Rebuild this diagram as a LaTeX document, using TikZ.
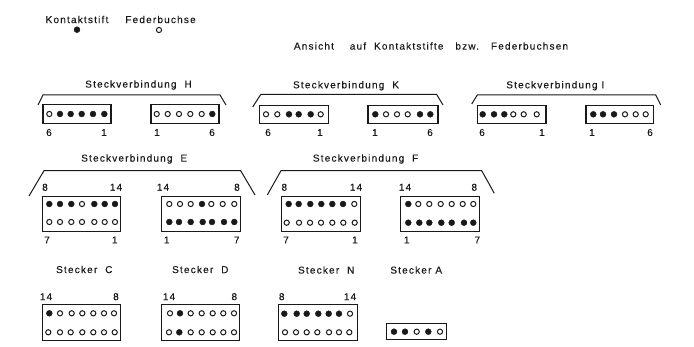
\documentclass[tikz,border=0pt]{standalone}
\usepackage{fontspec}
\setmainfont[LetterSpace=12,FakeBold=0.25]{Liberation Sans}
\usepackage{tikz}
\definecolor{white}{rgb}{1.0, 1.0, 1.0}
\definecolor{tinte}{RGB}{25,25,25}
\pgfdeclarelayer{edgelayer}
\pgfdeclarelayer{nodelayer}
\pgfsetlayers{edgelayer,nodelayer,main}
\tikzstyle{stift}=[circle,fill=tinte,draw=tinte,line width=0.3pt,inner sep=0pt,minimum size=6pt]
\tikzstyle{buchse}=[circle,fill=white,draw=tinte,line width=1pt,inner sep=0pt,minimum size=5.2pt]
\tikzstyle{schrift}=[inner sep=0pt,text=tinte,font=\fontsize{10}{11}\selectfont]
\tikzstyle{kasten}=[draw=tinte,line width=1.1pt,fill=white,inner sep=0pt]
\tikzstyle{klein}=[kasten,minimum height=18.5pt]
\tikzstyle{gross}=[kasten,minimum height=35.5pt]
\tikzstyle{klammer}=[draw=tinte,line width=1pt]

\begin{document}
\begin{tikzpicture}[x=1pt,y=-1pt]
        \useasboundingbox (0,0) rectangle (694,347);
        \begin{pgfonlayer}{edgelayer}
            \node [style = klein, minimum width=68pt] (h1) at (77, 114) {};
            \node [style = klein, minimum width=68pt] (h2) at (185, 114) {};
            \node [style = klein, minimum width=69pt] (k1) at (294, 114.5) {};
            \node [style = klein, minimum width=70pt] (k2) at (403, 114.5) {};
            \node [style = klein, minimum width=68.5pt] (i1) at (511.7, 114.5) {};
            \node [style = klein, minimum width=67.5pt] (i2) at (619.7, 114.5) {};

            \node [style = gross, minimum width=78pt] (e1) at (81.7, 214) {};
            \node [style = gross, minimum width=79pt] (e2) at (201.2, 214) {};
            \node [style = gross, minimum width=79pt] (f1) at (321.2, 214) {};
            \node [style = gross, minimum width=79pt] (f2) at (440.4, 214) {};

            \node [style = gross, minimum width=78pt] (c) at (81.8, 322.5) {};
            \node [style = gross, minimum width=78pt] (d) at (200.8, 322.5) {};
            \node [style = gross, minimum width=79pt] (n) at (318, 322.5) {};
            \node [style = klein, minimum width=60.5pt, minimum height=16.5pt] (a) at (416.3, 331.5) {};

            \draw [style = klammer] (38, 105) to (43, 95) to (220, 95) to (226, 105);
            \draw [style = klammer] (252.7, 107) to (260.7, 94.5) to (436.7, 94.5) to (443, 105);
            \draw [style = klammer] (471.7, 104) to (477.3, 95) to (655.7, 95) to (660.7, 105);
            \draw [style = klammer] (29, 196) to (44, 170.7) to (240.7, 170.7) to (255, 195);
            \draw [style = klammer] (267.3, 195) to (281, 170.7) to (481.7, 170.7) to (494.3, 193.3);
        \end{pgfonlayer}

        \begin{pgfonlayer}{nodelayer}
            \node [style = schrift] (kontaktstift) at (77, 19.5) {Kontaktstift};
            \node [style = schrift] (federbuchse) at (160.5, 19.5) {Federbuchse};
            \node [style = stift] (stiftzeichen) at (77, 29.7) {};
            \node [style = buchse] (buchsezeichen) at (159, 30) {};
            \node [style = schrift] (ansicht) at (431, 46) {Ansicht\ \ \ \ auf\ \ Kontaktstifte\ \ \ bzw.\ \ \ Federbuchsen};

            \node [style = schrift] (titelh) at (138.5, 85) {Steckverbindung\ \ H};
            \node [style = schrift] (titelk) at (346, 85.7) {Steckverbindung\ \ K};
            \node [style = schrift] (titeli) at (555.3, 85.7) {Steckverbindung I};
            \node [style = schrift] (titele) at (134.2, 159) {Steckverbindung\ \ E};
            \node [style = schrift] (titelf) at (365.6, 159) {Steckverbindung\ \ F};
            \node [style = schrift] (titelc) at (84.3, 269.5) {Stecker\ \ C};
            \node [style = schrift] (titeld) at (200.3, 269.5) {Stecker\ \ D};
            \node [style = schrift] (titeln) at (326.2, 270) {Stecker\ \ N};
            \node [style = schrift] (titela) at (416.2, 270) {Stecker\ A};

            \foreach \x/\t [count=\n] in {49/6,104/1,157/1,212/6,268/6,320/1,375/1,430/6,482/6,542/1,592/1,650/6}
                \node [style = schrift] (zahlo\n) at (\x, 132.5) {\t};
            \foreach \x/\t [count=\n] in {45/8,116/14,163/14,237/8,284.3/8,356/14,405/14,474.3/8}
                \node [style = schrift] (zahlm\n) at (\x, 187.3) {\t};
            \foreach \x/\t [count=\n] in {47/7,114.7/1,166.7/1,236.7/7,286/7,355/1,406.7/1,477.3/7}
                \node [style = schrift] (zahlu\n) at (\x, 240) {\t};
            \foreach \x/\t [count=\n] in {46/14,116/8,169/14,234.3/8,281.7/8,350/14}
                \node [style = schrift] (zahls\n) at (\x, 296.7) {\t};

            \foreach \x/\s [count=\n] in {49.3/buchse,60/stift,70.7/stift,81.7/stift,93/stift,104.3/stift}
                \node [style = \s] (ha\n) at (\x, 114) {};
            \foreach \x/\s [count=\n] in {156.7/buchse,167.7/buchse,179/buchse,190.3/buchse,201.7/buchse,212.3/stift}
                \node [style = \s] (hb\n) at (\x, 114) {};
            \foreach \x/\s [count=\n] in {266/buchse,277.3/buchse,289/stift,298.7/stift,310.7/stift,320.7/buchse}
                \node [style = \s] (ka\n) at (\x, 114.3) {};
            \foreach \x/\s [count=\n] in {375.3/stift,386/buchse,397/buchse,407.7/buchse,420/stift,430.3/stift}
                \node [style = \s] (kb\n) at (\x, 114.3) {};
            \foreach \x/\s [count=\n] in {482.7/stift,494/stift,504.3/stift,513.3/buchse,523.7/buchse,536.7/buchse}
                \node [style = \s] (ia\n) at (\x, 114.3) {};
            \foreach \x/\s [count=\n] in {593.3/stift,603/stift,614/stift,625/buchse,635.7/buchse,645.7/buchse}
                \node [style = \s] (ib\n) at (\x, 114.3) {};

            \foreach \x/\s [count=\n] in {49.3/stift,60/stift,71.3/stift,82/buchse,94.3/stift,104.7/stift,115/stift}
                \node [style = \s] (ea\n) at (\x, 204) {};
            \foreach \x [count=\n] in {49.3,60,71.3,82,94.3,104.7,115}
                \node [style = buchse] (eb\n) at (\x, 222) {};
            \foreach \x/\s [count=\n] in {169.3/buchse,180/buchse,190.7/buchse,202/stift,211.3/buchse,222.7/buchse,234.3/buchse}
                \node [style = \s] (ec\n) at (\x, 204) {};
            \foreach \x [count=\n] in {169.3,179,190.7,202.7,212,224,234.3}
                \node [style = stift] (ed\n) at (\x, 222) {};

            \foreach \x/\s [count=\n] in {288.7/stift,298.7/stift,310.3/stift,321.3/stift,332.3/stift,343/stift,354.3/buchse}
                \node [style = \s] (fa\n) at (\x, 204) {};
            \foreach \x [count=\n] in {286.7,299,310,321,332.3,343.3,354.7}
                \node [style = buchse] (fb\n) at (\x, 222.7) {};
            \foreach \x/\s [count=\n] in {408.3/stift,418.3/buchse,429.3/buchse,440.7/buchse,451.7/buchse,462.7/buchse,473.3/buchse}
                \node [style = \s] (fc\n) at (\x, 204) {};
            \foreach \x [count=\n] in {408.3,419.3,429.3,441.3,451.7,464,473.3}
                \node [style = stift] (fd\n) at (\x, 222.7) {};

            \foreach \x/\s [count=\n] in {49.3/stift,60/buchse,71.7/buchse,82.3/buchse,93.3/buchse,104/buchse,114/buchse}
                \node [style = \s] (ca\n) at (\x, 313.3) {};
            \foreach \x [count=\n] in {48.3,60,70.7,82.3,93.3,104,114.7}
                \node [style = buchse] (cb\n) at (\x, 332.3) {};
            \foreach \x/\s [count=\n] in {170/buchse,180/stift,190.7/buchse,201.7/buchse,212.7/buchse,223.3/buchse,234/buchse}
                \node [style = \s] (da\n) at (\x, 313.3) {};
            \foreach \x/\s [count=\n] in {169/buchse,179.3/stift,190.7/buchse,201.7/buchse,212.7/buchse,223.3/buchse,234/buchse}
                \node [style = \s] (db\n) at (\x, 332.3) {};
            \foreach \x/\s [count=\n] in {284.3/stift,296.7/stift,306.7/stift,318.3/stift,328.7/stift,339/stift,350/buchse}
                \node [style = \s] (na\n) at (\x, 313.7) {};
            \foreach \x [count=\n] in {285,296,306.7,317.3,329,339,349.3}
                \node [style = buchse] (nb\n) at (\x, 332.3) {};
            \foreach \x/\s [count=\n] in {394/stift,405/stift,416.7/buchse,428.3/stift,440/buchse}
                \node [style = \s] (aa\n) at (\x, 331.7) {};
        \end{pgfonlayer}
    \end{tikzpicture}
\end{document}
